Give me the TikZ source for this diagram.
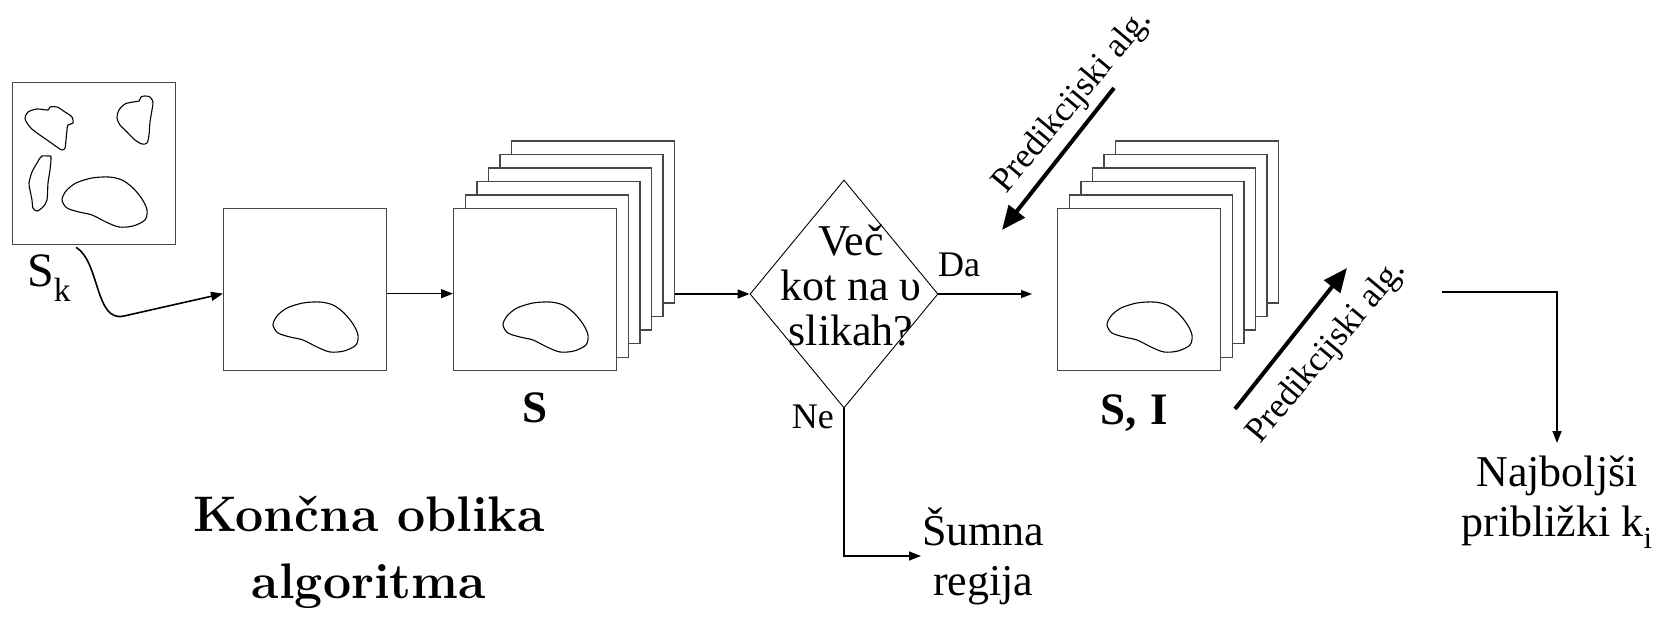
\documentclass[tikz,border=0pt]{standalone}
\usepackage{fontspec}
\newfontfamily\tnr{Liberation Serif}
\usetikzlibrary{arrows.meta,shapes.geometric}
\begin{document}
\begin{tikzpicture}[x=1pt,y=-1pt,
  frame/.style={draw=black!72, line width=1.3pt, fill=white, minimum width=163pt, minimum height=162pt, inner sep=0pt, anchor=north west},
  outline/.style={line width=1.1pt},
  conn/.style={line width=1.6pt, -{Triangle[length=12pt,width=9pt]}},
  thinconn/.style={line width=1.1pt, -{Triangle[length=11pt,width=8pt]}},
  bigarrow/.style={line width=4pt, -{Triangle[length=24pt,width=20pt]}},
  predlbl/.style={font=\tnr\fontsize{35}{40}\selectfont, inner sep=0pt},
  declbl/.style={font=\tnr\fontsize{44}{45}\selectfont, inner sep=0pt, align=center},
  smalllbl/.style={font=\tnr\fontsize{36}{38}\selectfont, inner sep=0pt},
  endlbl/.style={font=\tnr\fontsize{44}{50}\selectfont, inner sep=0pt, align=center},
  stacklbl/.style={font=\tnr\bfseries\fontsize{45}{48}\selectfont, inner sep=0pt, anchor=base},
  blob/.pic={\draw[outline] plot[smooth cycle] coordinates {(0,23) (4,14) (14,6) (30,1) (47,0) (60,3) (71,11) (80,22) (85,33) (83,43) (71,49) (57,50) (44,45) (30,38) (17,35) (5,31)};}
]
\useasboundingbox (0,0) rectangle (1660,620);

% input image S_k
\node[frame] (sk) at (12,82) {};
\draw[outline] plot[smooth cycle] coordinates {(25,118) (28,112) (37,109) (48,110) (50,107) (57,107) (65,112) (72,117) (73,123) (68,125) (67,130) (66,140) (65,148) (62,150) (57,147) (47,140) (33,130) (27,123)};
\draw[outline] plot[smooth cycle] coordinates {(117,118) (119,110) (125,104) (133,102) (139,101) (141,97) (145,96) (150,97) (153,102) (152,110) (150,122) (149,135) (147,143) (142,144) (135,140) (127,132) (120,125)};
\draw[outline] plot[smooth cycle] coordinates {(29,183) (32,172) (37,163) (40,158) (42,156) (48,156) (51,157) (50,170) (48,183) (47,200) (43,207) (37,211) (33,208) (32,200) (30,190)};
\pic at (62,177) {blob};
\node[font=\tnr\fontsize{48}{50}\selectfont, anchor=base west, inner sep=0pt] (sklabel) at (27,287) {S\textsubscript{k}};

% single region
\node[frame] (b2) at (223,208) {};
\pic at (273,302) {blob};

% stack S
\foreach \i in {5,4,...,0} {
  \node[frame] (s\i) at ({453+11.6*\i},{208-13.5*\i}) {};
}
\pic at (503,302) {blob};
\node[stacklbl] (slab) at (535,422) {S};

% stack S, I
\foreach \i in {5,4,...,0} {
  \node[frame] (t\i) at ({1057+11.6*\i},{208-13.5*\i}) {};
}
\pic at (1107,302) {blob};
\node[stacklbl] (silab) at (1134,424) {S,\hspace{0.3em}I};

% decision
\node[diamond, draw, line width=0.9pt, minimum width=188pt, minimum height=228pt, inner sep=0pt] (dec) at (844,294) {};
\node[declbl] (dtxt) at (851,286) {Več\\kot na υ\\slikah?};
\node[smalllbl, anchor=base west] (da) at (938,277) {Da};
\node[smalllbl, anchor=base east] (ne) at (834,428) {Ne};
\node[endlbl, anchor=west] (sum) at (922,556) {Šumna\\regija};

% connectors
\coordinate (c1) at (124,316);
\draw[conn] ([xshift=-18pt,yshift=-2pt]sk.south) .. controls (100,262) and (95,323) .. (c1) -- ([yshift=-4pt]b2.west);
\draw[conn] ([yshift=-4pt]b2.east) -- ([yshift=-4pt]s0.west);
\draw[conn] (s5.east |- dec.west) -- (dec.west);
\draw[thinconn, shorten >=25pt] (dec.east) -- (dec.east -| t0.west);
\draw[conn] (dec.south) |- ([xshift=-1pt]sum.west);

% prediction arrows
\coordinate (u1) at (1114,88);
\coordinate (u2) at (1002,230);
\draw[bigarrow] (u1) -- (u2);
\coordinate (l1) at (1235,409);
\coordinate (l2) at (1347,268);
\draw[bigarrow] (l1) -- (l2);
\node[predlbl, rotate=50] (p1) at (1073,102) {Predikcijski alg.};
\node[predlbl, rotate=50] (p2) at (1327,352) {Predikcijski alg.};

% result
\coordinate (f1) at (1442,292);
\node[endlbl, anchor=north] (naj) at (1557,456) {Najboljši\\približki k\textsubscript{i}};
\draw[conn, shorten >=13pt] (f1) -| (naj.north);

% title
\node[font=\bfseries\fontsize{50}{67}\selectfont, align=center, inner sep=0pt] (title) at (369,552) {Končna oblika\\algoritma};
\end{tikzpicture}
\end{document}
